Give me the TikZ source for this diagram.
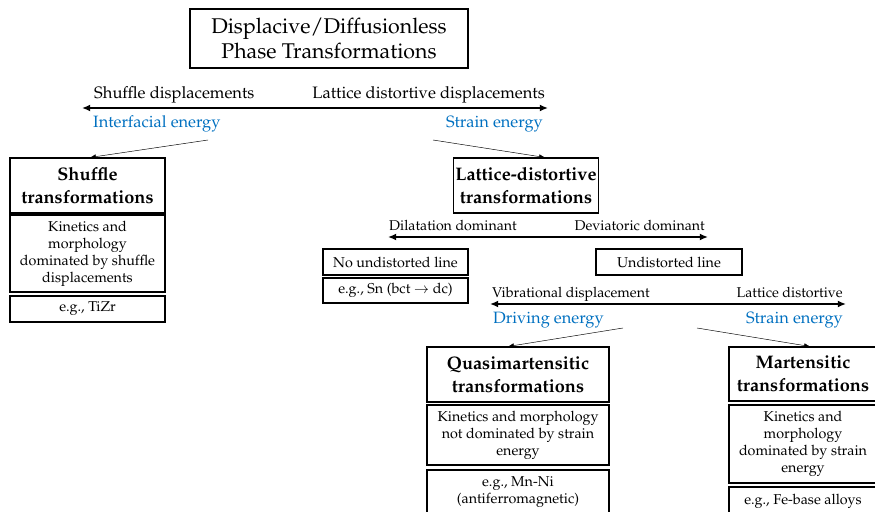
\documentclass[tikz,border=0pt]{standalone}
\usepackage[T1]{fontenc}
\usepackage{mathpazo}
\usepackage{tikz}
\usetikzlibrary{arrows.meta}
\usetikzlibrary{calc}
\definecolor{energyblue}{RGB}{0,112,192}

\begin{document}
\begin{tikzpicture}[x=0.03cm, y=-0.03cm,
    box/.style={draw, line width=0.9pt, rectangle, inner sep=2pt, align=center, font=\fontsize{12.2}{14.5}\selectfont},
    headbox/.style={box, font=\fontsize{15.5}{19.5}\selectfont\bfseries},
    titlebox/.style={box, font=\fontsize{18.2}{22}\selectfont},
    sidelabel/.style={inner sep=0pt, font=\fontsize{14.1}{16}\selectfont},
    smalllabel/.style={inner sep=0pt, font=\fontsize{12.1}{14}\selectfont},
    energylabel/.style={inner sep=0pt, text=energyblue, font=\fontsize{14}{16}\selectfont},
    axisline/.style={line width=1.7pt, {Latex[length=7pt,width=6pt]}-{Latex[length=7pt,width=6pt]}},
    link/.style={line width=0.4pt, -{Latex[length=5pt,width=4pt]}}]

    \useasboundingbox (0,0) rectangle (875,512);

    \node (title) [titlebox, minimum width=8.34cm, minimum height=1.77cm] at (329,38.5) {Displacive/Diffusionless\\Phase Transformations};

    % shuffle vs lattice distortive
    \coordinate (s1) at (82,108);
    \coordinate (s2) at (548,108);
    \draw[axisline] (s1) -- (s2);
    \node (shufdisp) [sidelabel, anchor=base west] at (94,99) {Shuffle displacements};
    \node (lattdisp) [sidelabel, anchor=base east] at (545,99) {Lattice distortive displacements};
    \node (interf) [energylabel, anchor=base west] at (93,128) {Interfacial energy};
    \node (strain1) [energylabel, anchor=base east] at (543,128) {Strain energy};

    \node (shuf) [headbox, minimum width=4.65cm, minimum height=1.65cm] at (87.5,185.5) {Shuffle\\transformations};
    \node (shufkin) [box, minimum width=4.65cm, minimum height=2.31cm] at (87.5,253.5) {Kinetics and\\morphology\\dominated by shuffle\\displacements};
    \node (shufeg) [box, minimum width=4.65cm, minimum height=0.78cm] at (87.5,309) {e.g., TiZr};

    \node (latt) [headbox, minimum width=4.2cm, minimum height=1.65cm] at (526,185.5) {Lattice-distortive\\transformations};

    \coordinate (l1) at (208,140);
    \coordinate (l2) at (433,140);
    \draw[link] (l1) -- (shuf.north west -| 90,0);
    \draw[link] (l2) -- (latt.north west -| 545,0);

    % dilatation vs deviatoric
    \coordinate (d1) at (388,237);
    \coordinate (d2) at (708,237);
    \draw[axisline] (d1) -- (d2);
    \node (dilat) [smalllabel, anchor=base west] at (389,230) {Dilatation dominant};
    \node (devia) [smalllabel, anchor=base east] at (705,230) {Deviatoric dominant};

    \node (noline) [box, minimum width=4.35cm, minimum height=0.78cm] at (395.5,262) {No undistorted line};
    \node (sneg) [box, minimum width=4.35cm, minimum height=0.75cm] at (395.5,290.5) {e.g., Sn (bct $\rightarrow$ dc)};
    \node (undist) [box, minimum width=4.38cm, minimum height=0.78cm] at (669,262) {Undistorted line};

    % vibrational vs lattice distortive
    \coordinate (v1) at (490,304);
    \coordinate (v2) at (846,304);
    \draw[axisline] (v1) -- (v2);
    \node (vibr) [smalllabel, anchor=base west] at (492,297) {Vibrational displacement};
    \node (lattd) [smalllabel, anchor=base east] at (843,297) {Lattice distortive};
    \node (driving) [energylabel, anchor=base west] at (493,323) {Driving energy};
    \node (strain2) [energylabel, anchor=base east] at (843,323) {Strain energy};

    \node (quasi) [headbox, minimum width=5.46cm, minimum height=1.65cm] at (518,374.5) {Quasimartensitic\\transformations};
    \node (quasikin) [box, minimum width=5.46cm, minimum height=1.8cm] at (518,435) {Kinetics and morphology\\not dominated by strain\\energy};
    \node (quasieg) [box, minimum width=5.46cm, minimum height=1.35cm] at (518,492.5) {e.g., Mn-Ni\\(antiferromagnetic)};

    \node (mart) [headbox, minimum width=4.44cm, minimum height=1.62cm] at (803,374) {Martensitic\\transformations};
    \node (martkin) [box, minimum width=4.44cm, minimum height=2.34cm] at (803,444) {Kinetics and\\morphology\\dominated by strain\\energy};
    \node (marteg) [box, minimum width=4.44cm, minimum height=0.84cm] at (803,501) {e.g., Fe-base alloys};

    \coordinate (q1) at (623,328);
    \coordinate (q2) at (697,328);
    \draw[link] (q1) -- (quasi.north west -| 508,0);
    \draw[link] (q2) -- (mart.north west -| 810,0);

\end{tikzpicture}
\end{document}
